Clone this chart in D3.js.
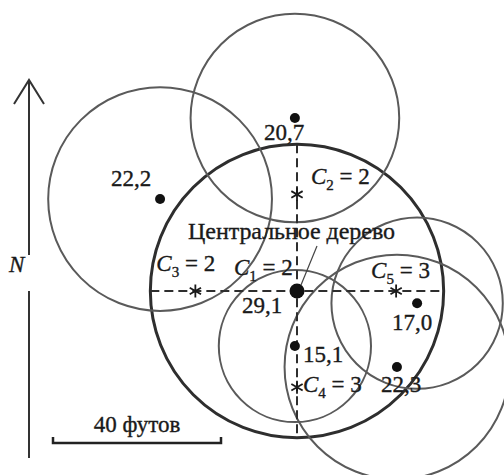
<!DOCTYPE html>
<html>
<head>
<meta charset="utf-8">
<script src="https://cdn.jsdelivr.net/npm/d3@7"></script>
<style>
  body { margin: 0; background: #fff; }
</style>
</head>
<body>
<div id="plot"></div>
<script>
// trees: position in feet from the central tree (east, north) and diameter
var treeNames = ["central", "t20", "t22a", "t15", "t17", "t22b"]
var treeEast = [0, -0.5, -32.6, -0.5, 28.6, 23.8]
var treeNorth = [0, 41.2, 21.9, -13.1, -2.9, -18.1]
var treeDiam = [29.1, 20.7, 22.2, 15.1, 17.0, 22.3]
var radiusFactor = 1.2   // feet of plot radius per unit of diameter

// sample points C1..C5 (feet) and counts
var pointNames = ["C1", "C2", "C3", "C4", "C5"]
var pointEast = [0, 0, -24.2, 0, 23.6]
var pointNorth = [0, 23, 0, -22.9, 0]
var pointCount = [2, 2, 2, 3, 3]

var scaleFeet = 40

var serif = "'Liberation Serif', 'Times New Roman', 'DejaVu Serif', serif"
var fs = 23
var width = 504, height = 475
var svg = d3.select("#plot").append("svg")
    .attr("width", width)
    .attr("height", height)
    .attr("font-family", serif)
    .style("font-family", serif)

var x = d3.scaleLinear().domain([0, 40]).range([297, 297 + 168])
var y = d3.scaleLinear().domain([0, 40]).range([291, 291 - 168])
var rpx = function(ft) { return x(ft) - x(0) }

var trees = treeNames.map(function(n, i) {
  return {name: n, e: treeEast[i], n: treeNorth[i], d: treeDiam[i]}
})
var points = pointNames.map(function(n, i) {
  return {name: n, e: pointEast[i], n: pointNorth[i], c: pointCount[i]}
})

// plot circles
svg.selectAll("circle.plot")
  .data(trees)
  .enter().append("circle")
    .attr("class", "plot")
    .attr("cx", function(d) { return x(d.e) })
    .attr("cy", function(d) { return y(d.n) })
    .attr("r", function(d) { return rpx(d.d * radiusFactor) })
    .attr("fill", "none")
    .attr("stroke", function(d, i) { return i == 0 ? "#2e2e2e" : "#5a5a5a" })
    .attr("stroke-width", function(d, i) { return i == 0 ? 3 : 2 })

// dashed cross through the central tree
var rc = trees[0].d * radiusFactor
svg.append("line")
    .attr("x1", x(-rc)).attr("x2", x(rc))
    .attr("y1", y(0)).attr("y2", y(0))
    .attr("stroke", "#2e2e2e").attr("stroke-width", 2)
    .attr("stroke-dasharray", "9,5")
svg.append("line")
    .attr("x1", x(0)).attr("x2", x(0))
    .attr("y1", y(rc)).attr("y2", y(-rc))
    .attr("stroke", "#2e2e2e").attr("stroke-width", 2)
    .attr("stroke-dasharray", "9,5")

// trees
svg.selectAll("circle.tree")
  .data(trees)
  .enter().append("circle")
    .attr("class", "tree")
    .attr("cx", function(d) { return x(d.e) })
    .attr("cy", function(d) { return y(d.n) })
    .attr("r", function(d, i) { return i == 0 ? 7.5 : 5 })
    .attr("fill", "#111")

// stars at sample points (not at the centre)
var star = d3.symbol().type(d3.symbolAsterisk).size(120)
svg.selectAll("path.star")
  .data(points.slice(1))
  .enter().append("path")
    .attr("class", "star")
    .attr("d", star)
    .attr("transform", function(d) { return "translate(" + x(d.e) + "," + y(d.n) + ")" })
    .attr("fill", "none")
    .attr("stroke", "#1a1a1a")
    .attr("stroke-width", 1.8)

function ink(sel) {
  sel.attr("fill", "#1a1a1a").attr("stroke", "#1a1a1a").attr("stroke-width", 0.35)
}

// tree labels
var treeLabelOff = [[-55, 22], [-31, 22], [-49, -13], [8, 16], [-25, 27], [-16, 25]]
svg.selectAll("text.tlab")
  .data(trees)
  .enter().append("text")
    .attr("class", "tlab")
    .attr("x", function(d, i) { return x(d.e) + treeLabelOff[i][0] })
    .attr("y", function(d, i) { return y(d.n) + treeLabelOff[i][1] })
    .attr("font-size", fs)
    .call(ink)
    .text(function(d) { return d.d.toFixed(1).replace(".", ",") })

// C labels
var pointLabelOff = [[-63, -16], [14, -10], [-39, -20], [6, 5], [-25, -13]]
var plab = svg.selectAll("text.plab")
  .data(points)
  .enter().append("text")
    .attr("class", "plab")
    .attr("x", function(d, i) { return x(d.e) + pointLabelOff[i][0] })
    .attr("y", function(d, i) { return y(d.n) + pointLabelOff[i][1] })
    .attr("font-size", fs)
    .call(ink)
plab.append("tspan").attr("font-style", "italic").text("C")
plab.append("tspan").attr("font-size", 15).attr("dy", 6)
    .text(function(d) { return d.name.slice(1) })
plab.append("tspan").attr("dy", -6)
    .text(function(d) { return " = " + d.c })

// central tree caption + leader
svg.append("text")
    .attr("x", 188).attr("y", 239)
    .attr("font-size", 24)
    .attr("textLength", 207)
    .call(ink)
    .text("Центральное дерево")
svg.append("line")
    .attr("x1", 317).attr("y1", 246)
    .attr("x2", x(0) + 4).attr("y2", y(0) - 6)
    .attr("stroke", "#444").attr("stroke-width", 1.2)

// north arrow
svg.append("line").attr("x1", 29).attr("x2", 29).attr("y1", 80).attr("y2", 255)
    .attr("stroke", "#333").attr("stroke-width", 2)
svg.append("line").attr("x1", 29).attr("x2", 29).attr("y1", 291).attr("y2", 458)
    .attr("stroke", "#333").attr("stroke-width", 2)
svg.append("path").attr("d", "M14,104 L29,80 L44,104")
    .attr("fill", "none").attr("stroke", "#333").attr("stroke-width", 2)
svg.append("text").attr("x", 9).attr("y", 272)
    .attr("font-size", fs).attr("font-style", "italic")
    .call(ink).text("N")

// scale bar
var sb = rpx(scaleFeet)
svg.append("path")
    .attr("d", "M53,437 L53,443 L" + (53 + sb) + ",443 L" + (53 + sb) + ",437")
    .attr("fill", "none").attr("stroke", "#222").attr("stroke-width", 2.5)
svg.append("text").attr("x", 53 + sb / 2).attr("y", 432)
    .attr("text-anchor", "middle").attr("font-size", fs)
    .call(ink)
    .text(scaleFeet + " футов")
</script>
</body>
</html>
